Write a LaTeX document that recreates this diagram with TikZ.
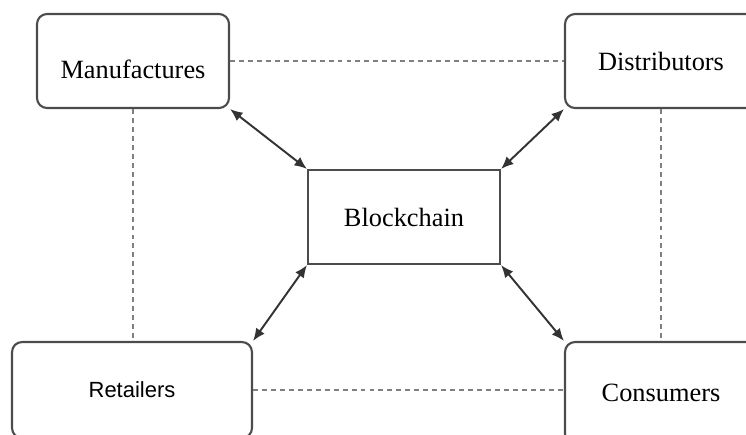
\documentclass[tikz,border=0pt]{standalone}
\usepackage{fontspec}
\setmainfont{Liberation Serif}
\setsansfont{Liberation Sans}
\usetikzlibrary{positioning,arrows.meta}
\tikzset{
  syncarrow/.style={{Latex[length=2.5mm,width=2.1mm]}-{Latex[length=2.5mm,width=2.1mm]}, line width=1.1pt, black!80},
  linkline/.style={black!50, line width=1pt, dash pattern=on 2.8pt off 2.3pt},
  partybox/.style={draw=black!70, rounded corners=0.2cm, line width=1.2pt, fill=white, minimum width=3.84cm, minimum height=1.88cm, align=center, font=\fontsize{15}{18}\selectfont},
  chainbox/.style={draw=black!70, line width=1.2pt, fill=white, minimum width=3.84cm, minimum height=1.88cm, align=center, font=\fontsize{15}{18}\selectfont}
}
\begin{document}
\begin{tikzpicture}[x=0.02cm, y=-0.02cm]
  \useasboundingbox (0,0) rectangle (746,434);
  \clip (0,0) rectangle (746,434);
  \node[partybox, text height=20pt] (mfr) at (133,61) {Manufactures};
  \node[partybox] (dist) at (661,61) {Distributors};
  \node[chainbox] (chain) at (404,217) {Blockchain};
  \node[partybox, minimum width=4.8cm, minimum height=1.92cm, font=\sffamily\fontsize{12.5}{15}\selectfont] (ret) at (132,390) {Retailers};
  \node[partybox, minimum height=2.04cm] (cons) at (661,393) {Consumers};
  \draw[linkline] (mfr.east) -- (dist.west);
  \draw[linkline] (ret.east) -- (ret.east -| cons.west);
  \draw[linkline] (mfr.south) -- (mfr.south |- ret.north);
  \draw[linkline] (dist.south) -- (dist.south |- cons.north);
  \draw[syncarrow] (mfr.south east) -- (chain.north west);
  \draw[syncarrow] (dist.south west) -- (chain.north east);
  \draw[syncarrow] (ret.north east) -- (chain.south west);
  \draw[syncarrow] (cons.north west) -- (chain.south east);
\end{tikzpicture}
\end{document}
